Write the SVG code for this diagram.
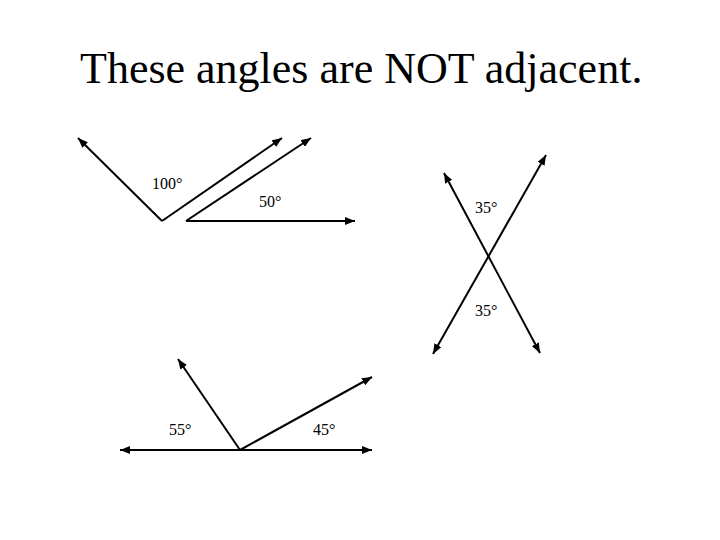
<svg xmlns="http://www.w3.org/2000/svg" width="720" height="540" viewBox="0 0 720 540">
  <style>
    .ray { stroke: #000; stroke-width: 2; fill: none; }
    .lbl { font-family: "Liberation Serif", "Times New Roman", serif; font-size: 16px; fill: #000; }
    .title { font-family: "Liberation Serif", "Times New Roman", serif; font-size: 44px; fill: #000; }
  </style>
  <defs>
    <marker id="arr" viewBox="0 0 10 8" refX="10" refY="4" markerWidth="10" markerHeight="8" markerUnits="userSpaceOnUse" orient="auto-start-reverse">
      <path d="M0,0 L10,4 L0,8 Z" fill="#000"/>
    </marker>
  </defs>
  <rect width="720" height="540" fill="#fff"/>
  <text class="title" x="80" y="83">These angles are NOT adjacent.</text>

  <g id="connectors">
    <g id="angle100">
      <path class="ray" d="M162,221 L78,138" marker-end="url(#arr)"/>
      <path class="ray" d="M162,221 L282,138" marker-end="url(#arr)"/>
    </g>
    <g id="angle50">
      <path class="ray" d="M186,221 L311,138" marker-end="url(#arr)"/>
      <path class="ray" d="M186,221 L355,221" marker-end="url(#arr)"/>
    </g>
    <g id="vertical-lines">
      <path class="ray" d="M444,173 L540,353" marker-start="url(#arr)" marker-end="url(#arr)"/>
      <path class="ray" d="M546,155 L433,354" marker-start="url(#arr)" marker-end="url(#arr)"/>
    </g>
    <g id="bottom-angles">
      <path class="ray" d="M120,450 L372,450" marker-start="url(#arr)" marker-end="url(#arr)"/>
      <path class="ray" d="M240,450 L178,359" marker-end="url(#arr)"/>
      <path class="ray" d="M240,450 L372,377" marker-end="url(#arr)"/>
    </g>
  </g>

  <g id="label-100"><text class="lbl" x="152" y="189">100°</text></g>
  <g id="label-50"><text class="lbl" x="259" y="207">50°</text></g>
  <g id="label-35-top"><text class="lbl" x="475" y="213">35°</text></g>
  <g id="label-35-bottom"><text class="lbl" x="475" y="316">35°</text></g>
  <g id="label-55"><text class="lbl" x="169" y="435">55°</text></g>
  <g id="label-45"><text class="lbl" x="313" y="435">45°</text></g>
</svg>
